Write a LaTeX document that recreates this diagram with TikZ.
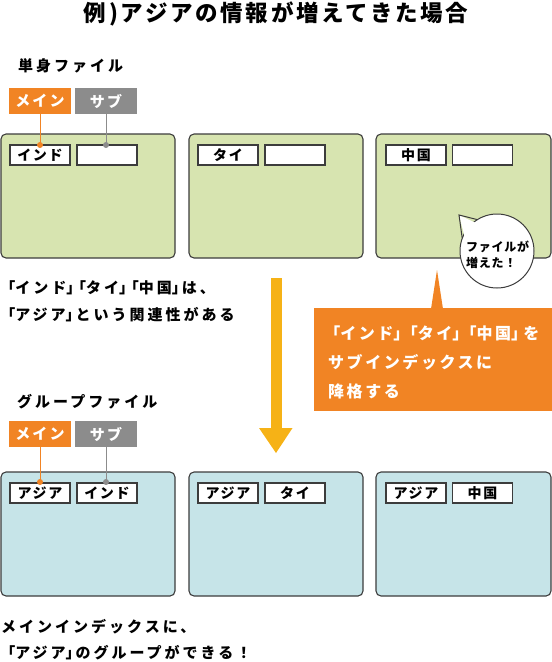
\documentclass[tikz,border=0pt]{standalone}
\usepackage{fontspec}
\usetikzlibrary{calc}
\setmainfont{Noto Sans CJK JP}[LetterSpace=20]
\newfontfamily\hwfont{Noto Sans CJK JP}[RawFeature=+halt]
\newcommand{\LK}[1][0.66em]{\makebox[#1][r]{\hwfont 「}}
\newcommand{\RK}[1][0.66em]{\makebox[#1][l]{\hwfont 」}}
\definecolor{cardgreen}{RGB}{215,228,176}
\definecolor{cardblue}{RGB}{198,228,232}
\definecolor{tagorange}{RGB}{241,132,36}
\definecolor{taggray}{RGB}{140,140,140}
\definecolor{arrowyellow}{RGB}{246,178,22}
\definecolor{edge}{RGB}{60,60,60}
\tikzset{
  card/.style={draw=edge, line width=1.1pt, rounded corners=5pt},
  inbox/.style={draw=edge, line width=1.1pt, fill=white, minimum width=60pt, minimum height=20pt, inner sep=0pt, font=\bfseries\fontsize{14}{14}\selectfont\addfontfeature{LetterSpace=12}},
  tag/.style={minimum width=62pt, minimum height=26pt, inner sep=0pt, text=white, font=\bfseries\fontsize{15}{15}\selectfont\addfontfeature{LetterSpace=14}},
  lbl/.style={anchor=west, inner sep=0pt, font=\bfseries\fontsize{15}{15}\selectfont},
  txt/.style={anchor=west, inner sep=0pt, align=left, font=\bfseries\fontsize{15}{27}\selectfont},
}
\begin{document}
\begin{tikzpicture}[x=1pt,y=-1pt]
\useasboundingbox (0,0) rectangle (552,662);
% title
\node[inner sep=0pt, font=\bfseries\fontsize{22.5}{22.5}\selectfont\addfontfeature{LetterSpace=12}] (title) at (276,14) {例)アジアの情報が増えてきた場合};
% ---------- top ----------
\node[lbl] (single) at (18,66) {単身ファイル};
\node[tag, fill=tagorange] (main1) at (40,101) {メイン};
\node[tag, fill=taggray] (sub1) at (106,101) {サブ};
\draw[card, fill=cardgreen] (1,134) rectangle (175,258);
\draw[card, fill=cardgreen] (189,134) rectangle (363,258);
\draw[card, fill=cardgreen] (376,134) rectangle (551,258);
\node[inbox] (t1a) at (40,155) {インド};
\node[inbox] (t1b) at (107,155) {};
\node[inbox] (t2a) at (228,155) {タイ};
\node[inbox] (t2b) at (295,155) {};
\node[inbox] (t3a) at (416,155) {中国};
\node[inbox] (t3b) at (482.5,155) {};
\coordinate (d1) at (40,145);
\coordinate (d2) at (106,145);
\draw[tagorange, line width=1pt] (main1.south -| d1) -- (d1);
\fill[tagorange] (d1) circle (3pt);
\draw[taggray, line width=1pt] (sub1.south -| d2) -- (d2);
\fill[taggray] (d2) circle (3pt);
% speech bubble
\coordinate (bc) at (497,251);
\draw[edge, line width=1pt, fill=white] (bc) circle (37pt);
\coordinate (tip) at (459,215);
\fill[white] ($(bc)+(127:35pt)$) -- (tip) -- ($(bc)+(157:35pt)$) -- cycle;
\draw[edge, line width=1pt, line join=miter] ($(bc)+(122:37pt)$) -- (tip) -- ($(bc)+(160:37pt)$);
\node[anchor=west, inner sep=0pt, align=left, font=\bfseries\fontsize{12}{16}\selectfont\addfontfeature{LetterSpace=6}] (bubble) at (466,254.5) {ファイルが\\増えた！};
% left note
\node[txt] (note1) at (5.2,301) {\LK インド\RK\LK タイ\RK\LK 中国\RK は、\\\LK アジア\RK という関連性がある};
% yellow arrow
\fill[arrowyellow] (271,278) rectangle (282,429);
\fill[arrowyellow] (259,428) -- (292.5,428) -- (276,453) -- cycle;
% orange callout
\fill[tagorange] (314,308) rectangle (552,411);
\fill[tagorange] (431,309) -- (437,270) -- (443,309) -- cycle;
\node[anchor=west, inner sep=0pt, align=left, text=white, font=\bfseries\fontsize{16}{29}\selectfont\addfontfeature{LetterSpace=16}] (call) at (328,362) {\LK[0.76em]インド\RK[0.76em]\LK[0.76em]タイ\RK[0.76em]\LK[0.76em]中国\RK[0.76em]を\\サブインデックスに\\降格する};
% ---------- bottom ----------
\node[lbl] (group) at (17,402) {グループファイル};
\node[tag, fill=tagorange] (main2) at (40,434) {メイン};
\node[tag, fill=taggray] (sub2) at (106,434) {サブ};
\draw[card, fill=cardblue] (1,472) rectangle (175,596);
\draw[card, fill=cardblue] (189,472) rectangle (363,596);
\draw[card, fill=cardblue] (376,472) rectangle (551,596);
\node[inbox] (b1a) at (40,493) {アジア};
\node[inbox] (b1b) at (107,493) {インド};
\node[inbox] (b2a) at (228,493) {アジア};
\node[inbox] (b2b) at (295,493) {タイ};
\node[inbox] (b3a) at (416,493) {アジア};
\node[inbox] (b3b) at (482.5,493) {中国};
\coordinate (e1) at (40,482);
\coordinate (e2) at (106,482);
\draw[tagorange, line width=1pt] (main2.south -| e1) -- (e1);
\fill[tagorange] (e1) circle (3pt);
\draw[taggray, line width=1pt] (sub2.south -| e2) -- (e2);
\fill[taggray] (e2) circle (3pt);
\node[txt] (note2a) at (1,627) {メインインデックスに、};
\node[txt] (note2b) at (5.2,653) {\LK アジア\RK のグループができる！};
\end{tikzpicture}
\end{document}
